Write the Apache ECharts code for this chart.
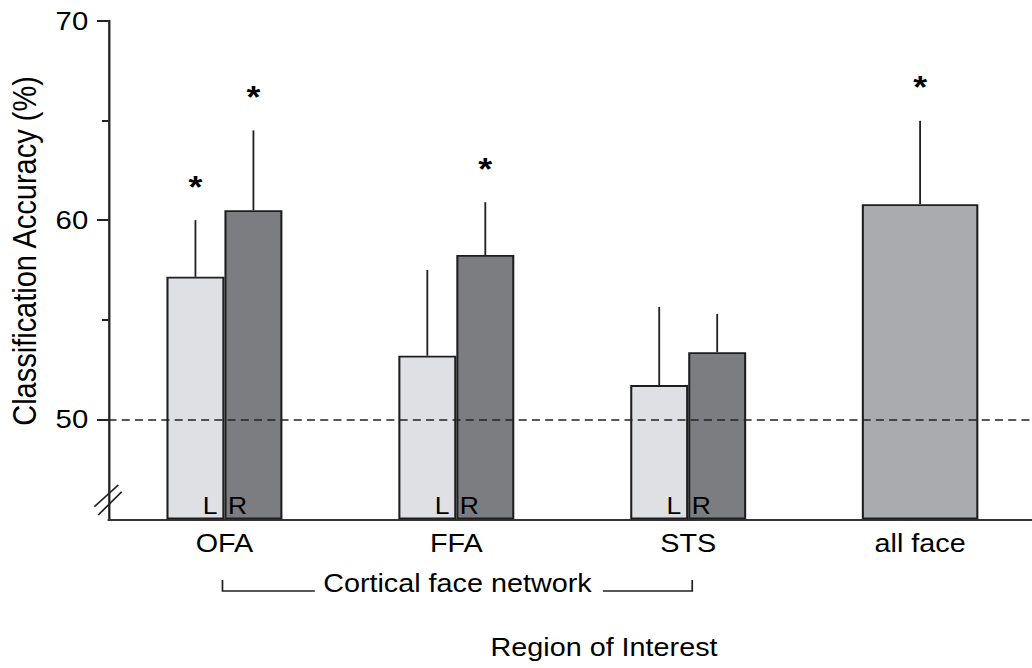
<!DOCTYPE html>
<html>
<head>
<meta charset="utf-8">
<script src="https://cdn.jsdelivr.net/npm/echarts@6/dist/echarts.min.js"></script>
<style>
html,body{margin:0;padding:0;overflow:hidden;background:#fff;width:1032px;height:668px}
#chart{width:901px;height:668px;transform:scaleX(1.1505);transform-origin:0 0}
</style>
</head>
<body>
<div id="chart"></div>
<script>
// ---- data ----
const categories = ['OFA', 'FFA', 'STS', 'all face'];
const leftValues  = [57.16, 53.2, 51.73, '-'];
const leftErrTop  = [60.0, 57.5, 55.65, '-'];
const leftSig     = [true, false, false, false];
const rightValues = [60.5, 58.25, 53.38, '-'];
const rightErrTop = [64.5, 60.9, 55.3, '-'];
const rightSig    = [true, true, false, false];
const allValues   = ['-', '-', '-', 60.8];
const allErrTop   = ['-', '-', '-', 64.98];
const allSig      = [false, false, false, true];
const yTickLabels = [50, 60, 70];
const yMinorTicks = [55, 65];
const chanceLevel = 50;
const yTitle = 'Classification Accuracy (%)';
const xTitle = 'Region of Interest';
const groupLabel = 'Cortical face network';

// ---- style ----
const FONT = '"Liberation Sans", Arial, Helvetica, sans-serif';
const INK = '#000';
const LINE = '#222';
const BAR_W = 50.4;
const ALL_W = 101.3;
const STAR_GAP = 33;

const errData = [];
categories.forEach((c, i) => {
  if (leftValues[i] !== '-') errData.push([i, leftValues[i], leftErrTop[i], -1, leftSig[i] ? 1 : 0]);
  if (rightValues[i] !== '-') errData.push([i, rightValues[i], rightErrTop[i], 1, rightSig[i] ? 1 : 0]);
  if (allValues[i] !== '-') errData.push([i, allValues[i], allErrTop[i], 0, allSig[i] ? 1 : 0]);
});

const chart = echarts.init(document.getElementById('chart'), null, {renderer: 'svg'});
const grid = {left: 94.3, top: 20.7, width: 806.2, height: 498.6};

const option = {
  animation: false,
  backgroundColor: '#fff',
  grid: Object.assign({containLabel: false, outerBoundsMode: 'none'}, grid),
  xAxis: [{
    type: 'category', data: categories, boundaryGap: true,
    axisLine: {show: true, onZero: false, lineStyle: {color: '#333', width: 2}},
    axisTick: {show: false},
    axisLabel: {fontSize: 25, color: INK, fontFamily: FONT, margin: 12, interval: 0},
    splitLine: {show: false}
  }, {
    type: 'category', data: categories, show: false, position: 'bottom'
  }],
  yAxis: [{
    type: 'value', min: 45, max: 70, interval: 5, startValue: 45,
    axisLine: {show: true, lineStyle: {color: LINE, width: 2}},
    axisTick: {show: true, customValues: yTickLabels, length: 10, lineStyle: {color: LINE, width: 2}},
    axisLabel: {customValues: yTickLabels, fontSize: 25.5, color: INK, fontFamily: FONT, margin: 17.6},
    splitLine: {show: false},
    name: yTitle, nameLocation: 'middle', nameRotate: 90, nameGap: 58,
    nameTextStyle: {fontSize: 29, color: INK, fontFamily: FONT, padding: [0, 0, 0, 38]}
  }, {
    type: 'value', min: 45, max: 70, interval: 5, position: 'left', startValue: 45,
    axisLine: {show: false},
    axisTick: {show: true, customValues: yMinorTicks, length: 5.7, lineStyle: {color: LINE, width: 2}},
    axisLabel: {show: false},
    splitLine: {show: false}
  }],
  series: [{
    type: 'bar', name: 'L', xAxisIndex: 0, yAxisIndex: 0, data: leftValues,
    barWidth: BAR_W, barGap: '0%',
    itemStyle: {color: '#dfe0e4', borderColor: '#1e1e1e', borderWidth: 1.8},
    label: {show: true, position: 'insideBottomRight', distance: 2, offset: [-4, 0],
      formatter: 'L', fontSize: 23, color: INK, fontFamily: FONT}
  }, {
    type: 'bar', name: 'R', xAxisIndex: 0, yAxisIndex: 0, data: rightValues,
    barWidth: BAR_W, barGap: '0%',
    itemStyle: {color: '#7c7d81', borderColor: '#1e1e1e', borderWidth: 1.8},
    label: {show: true, position: 'insideBottomLeft', distance: 2, offset: [1, 0],
      formatter: 'R', fontSize: 23, color: INK, fontFamily: FONT}
  }, {
    type: 'bar', name: 'all', xAxisIndex: 1, yAxisIndex: 0, data: allValues,
    barWidth: ALL_W,
    itemStyle: {color: '#a9abaf', borderColor: '#1e1e1e', borderWidth: 1.8}
  }, {
    type: 'custom', name: 'err', xAxisIndex: 0, yAxisIndex: 0, z: 5,
    data: errData, encode: {x: 0, y: [1, 2]},
    renderItem: function (params, api) {
      const cat = api.value(0);
      const base = api.coord([cat, api.value(1)]);
      const top = api.coord([cat, api.value(2)]);
      const x = base[0] + api.value(3) * BAR_W / 2;
      const children = [{type: 'line', shape: {x1: x, y1: base[1], x2: x, y2: top[1]},
        style: {stroke: LINE, lineWidth: 1.6}}];
      if (api.value(4)) {
        children.push({type: 'text', x: x, y: top[1] - STAR_GAP,
          style: {text: '*', fontSize: 31, fontWeight: 'bold', fontFamily: FONT, fill: INK,
            align: 'center', verticalAlign: 'middle'}});
      }
      return {type: 'group', children: children};
    },
    markLine: {
      silent: true, symbol: 'none', label: {show: false}, z: 6,
      lineStyle: {type: [7, 4.5], color: LINE, width: 1.5},
      data: [{yAxis: chanceLevel}]
    }
  }]
};
chart.setOption(option);

// decorations: axis break, group bracket, x title
const origin = chart.convertToPixel({xAxisIndex: 0, yAxisIndex: 0}, [0, 45]);
const axX = grid.left, axY = origin[1];
const ofaX = chart.convertToPixel({xAxisIndex: 0}, 0);
const stsX = chart.convertToPixel({xAxisIndex: 0}, 2);
const bl = ofaX - 1.7, br = stsX + 3.5, mid = (bl + br) / 2;
const by0 = 580, by1 = 591;
const ls = {stroke: LINE, lineWidth: 1.5};
chart.setOption({
  graphic: [
    {type: 'line', shape: {x1: axX - 12.3, y1: axY - 12.6, x2: axX + 8.5, y2: axY - 34.3}, style: {stroke: LINE, lineWidth: 1.6}},
    {type: 'line', shape: {x1: axX - 8.9, y1: axY - 4.3, x2: axX + 11.5, y2: axY - 27.6}, style: {stroke: LINE, lineWidth: 1.6}},
    {type: 'polyline', shape: {points: [[bl, by0], [bl, by1], [mid - 123.9, by1]]}, style: Object.assign({fill: null}, ls)},
    {type: 'polyline', shape: {points: [[mid + 126.5, by1], [br, by1], [br, by0]]}, style: Object.assign({fill: null}, ls)},
    {type: 'text', x: mid, y: 583.5, style: {text: groupLabel, fontSize: 25, fontFamily: FONT, fill: INK, align: 'center', verticalAlign: 'middle'}},
    {type: 'text', x: 525, y: 647.5, style: {text: xTitle, fontSize: 25, fontFamily: FONT, fill: INK, align: 'center', verticalAlign: 'middle'}}
  ]
});
</script>
</body>
</html>
